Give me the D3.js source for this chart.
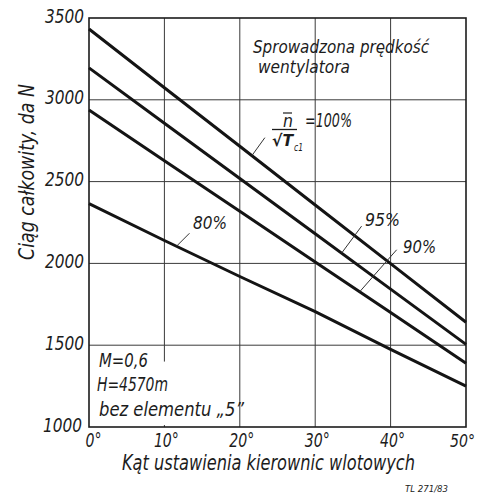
<!DOCTYPE html>
<html><head><meta charset="utf-8">
<script src="https://cdn.jsdelivr.net/npm/d3@7"></script>
<style>
html,body{margin:0;padding:0;background:#fff;}
svg text{font-family:"Liberation Sans Narrow","DejaVu Sans Condensed","Liberation Sans",sans-serif;font-style:italic;fill:#1c1c1c;}
</style></head>
<body><svg id="c" width="481" height="497"></svg>
<script>
// ---- data ----
const angles = [0, 10, 20, 30, 40, 50];
const thrust100 = [3433, 3074, 2716, 2357, 1999, 1640];
const thrust95  = [3195, 2857, 2519, 2181, 1843, 1505];
const thrust90  = [2938, 2628, 2319, 2009, 1700, 1390];
const thrust80  = [2365, 2140, 1920, 1705, 1475, 1250];
const seriesNames = ["100%", "95%", "90%", "80%"];
const xTicks = [0, 10, 20, 30, 40, 50];
const xTickLabels = ["0°", "10°", "20°", "30°", "40°", "50°"];
const yTicks = [1000, 1500, 2000, 2500, 3000, 3500];
const yTickLabels = ["1000", "1500", "2000", "2500", "3000", "3500"];

const svg = d3.select("#c");
const x = d3.scaleLinear().domain([0, 50]).range([89, 466]);
const y = d3.scaleLinear().domain([1000, 3500]).range([427, 18]);
const ink = "#1c1c1c";

// grid
const g = svg.append("g");
g.selectAll("line.gx").data(xTicks.slice(1, -1)).enter().append("line")
  .attr("x1", d => x(d)).attr("x2", d => x(d)).attr("y1", y(3500)).attr("y2", y(1000))
  .attr("stroke", "#3a3a3a").attr("stroke-width", 1);
g.selectAll("line.gy").data(yTicks.slice(1, -1)).enter().append("line")
  .attr("x1", x(0)).attr("x2", x(50)).attr("y1", d => y(d)).attr("y2", d => y(d))
  .attr("stroke", "#3a3a3a").attr("stroke-width", 1);
// blank area behind the condition note
svg.append("rect").attr("x", x(0) + 2).attr("y", y(1400)).attr("width", x(20) - x(0) - 5)
  .attr("height", y(1000) - y(1400) - 2).attr("fill", "#fff");

// frame
svg.append("rect").attr("x", x(0)).attr("y", y(3500)).attr("width", x(50) - x(0))
  .attr("height", y(1000) - y(3500)).attr("fill", "none").attr("stroke", ink).attr("stroke-width", 1.6);

// axes labels via d3 axes (no domain / tick marks drawn)
const ax = svg.append("g").attr("transform", `translate(0,${y(1000)})`)
  .call(d3.axisBottom(x).tickValues(xTicks).tickFormat((d, i) => xTickLabels[i]).tickSize(0).tickPadding(0));
ax.select(".domain").remove();
ax.attr("font-family", null);
ax.selectAll("text").attr("dy", null).attr("y", 20)
  .attr("dx", (d, i) => i === 0 ? 4 : (i === xTicks.length - 1 ? -4 : 1.5))
  .attr("font-size", (d, i) => i === xTicks.length - 1 ? 18 : 19).attr("fill", ink)
  .attr("textLength", (d, i) => xTickLabels[i].length > 2 ? 25 : 16)
  .attr("lengthAdjust", "spacingAndGlyphs");

const ay = svg.append("g").attr("transform", `translate(${x(0)},0)`)
  .call(d3.axisLeft(y).tickValues(yTicks).tickFormat((d, i) => yTickLabels[i]).tickSize(0).tickPadding(0));
ay.select(".domain").remove();
ay.attr("font-family", null);
ay.selectAll("text").attr("x", (d, i) => i === 0 ? -7 : -5).attr("dy", "0.2em").attr("font-size", 20)
  .attr("textLength", 39).attr("lengthAdjust", "spacingAndGlyphs").attr("fill", ink);

// curves
const allSeries = [thrust100, thrust95, thrust90, thrust80];
const line = d3.line().x((d, i) => x(angles[i])).y(d => y(d));
svg.selectAll("path.s").data(allSeries).enter().append("path")
  .attr("d", d => line(d)).attr("fill", "none").attr("stroke", "#141414")
  .attr("stroke-width", 3).attr("stroke-linecap", "butt");

// text helper
function txt(px, py, s, size, len, anchor) {
  const t = svg.append("text").attr("x", px).attr("y", py).attr("font-size", size).text(s);
  if (len) t.attr("textLength", len).attr("lengthAdjust", "spacingAndGlyphs");
  if (anchor) t.attr("text-anchor", anchor);
  return t;
}

// leader lines for series labels
function at(series, deg) { return d3.scaleLinear().domain(angles).range(series)(deg); }
const leaders = [
  {s: thrust100, deg: 21.6, dx: 13, dy: -18},
  {s: thrust95, deg: 33.5, dx: 20, dy: -27},
  {s: thrust90, deg: 35.9, dx: 37, dy: -42},
  {s: thrust80, deg: 11.6, dx: 13, dy: -13}
];
leaders.forEach(l => {
  const px = x(l.deg), py = y(at(l.s, l.deg));
  svg.append("line").attr("x1", px).attr("y1", py).attr("x2", px + l.dx).attr("y2", py + l.dy)
    .attr("stroke", "#333").attr("stroke-width", 1);
});

// series labels
txt(365, 226, seriesNames[1], 18, 35);
txt(403, 253, seriesNames[2], 18, 33);
txt(193, 229, seriesNames[3], 18, 34);

// fraction n̄ / √T_c1 = 100%
txt(283, 127, "n", 17, 10);
svg.append("line").attr("x1", 283).attr("x2", 292).attr("y1", 113).attr("y2", 113).attr("stroke", ink).attr("stroke-width", 1.2);
svg.append("line").attr("x1", 272).attr("x2", 297).attr("y1", 129.5).attr("y2", 129.5).attr("stroke", ink).attr("stroke-width", 1.3);
txt(272, 146, "√T", 16, 21).attr("font-weight", "bold");
txt(294, 151, "c1", 11, 9);
txt(305, 127, "=" + seriesNames[0], 19, 47);

// header
txt(253, 53, "Sprowadzona prędkość", 18, 176);
txt(258, 73, "wentylatora", 18, 92);

// condition note
txt(99, 367, "M=0,6", 19, 49);
txt(97, 391, "H=4570m", 19, 71);
txt(99, 416, "bez elementu „5”", 19, 145);

// axis titles
txt(122, 470, "Kąt ustawienia kierownic wlotowych", 21, 293);
txt(0, 0, "Ciąg całkowity, da N", 21, 176)
  .attr("transform", "translate(34,260) rotate(-90)");

// drawing number
txt(405, 492, "TL 271/83", 9, 43);
</script></body></html>
